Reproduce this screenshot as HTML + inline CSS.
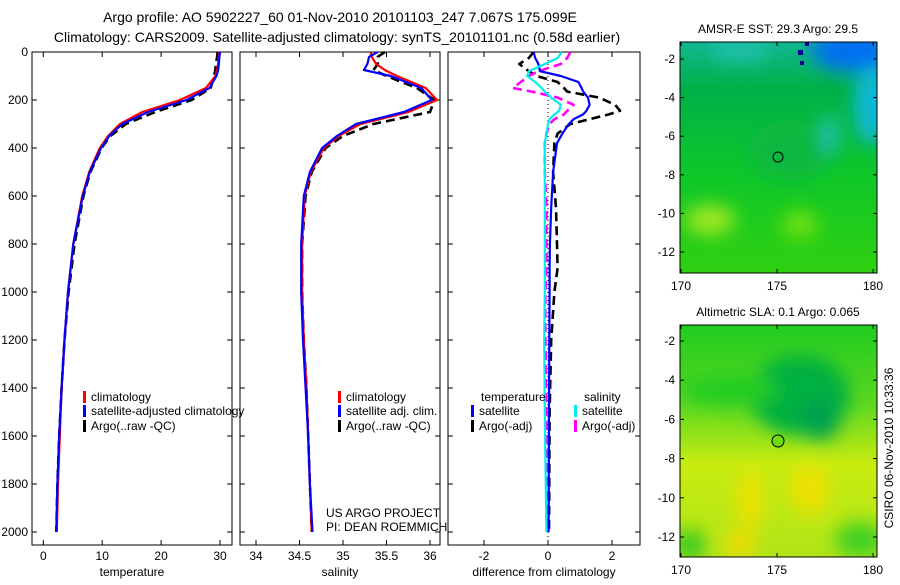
<!DOCTYPE html>
<html><head><meta charset="utf-8">
<style>
body{margin:0;background:#fff;width:900px;height:580px;overflow:hidden;font-family:"Liberation Sans",sans-serif;}
svg text{font-family:"Liberation Sans",sans-serif;fill:#000;}
</style></head>
<body>
<svg id="chart" width="900" height="580" viewBox="0 0 900 580" xmlns="http://www.w3.org/2000/svg">
<defs>
<filter id="bl" x="-50%" y="-50%" width="200%" height="200%"><feGaussianBlur stdDeviation="9"/></filter>
<clipPath id="c1"><rect x="680" y="42" width="197" height="231"/></clipPath>
<clipPath id="c2"><rect x="680" y="325" width="197" height="232"/></clipPath>
<linearGradient id="g1" x1="0" y1="0" x2="0" y2="1">
<stop offset="0" stop-color="#10b890"/><stop offset="0.2" stop-color="#00b048"/><stop offset="0.6" stop-color="#10c828"/><stop offset="1" stop-color="#30d010"/></linearGradient>
<linearGradient id="g2" x1="0" y1="0" x2="0" y2="1">
<stop offset="0" stop-color="#20cc20"/><stop offset="0.35" stop-color="#60d820"/><stop offset="0.6" stop-color="#c8ec10"/><stop offset="1" stop-color="#b0e418"/></linearGradient>
</defs>
<text x="340" y="22" text-anchor="middle" font-size="14">Argo profile: AO 5902227_60 01-Nov-2010 20101103_247 7.067S 175.099E</text>
<text x="337" y="42" text-anchor="middle" font-size="14">Climatology: CARS2009. Satellite-adjusted climatology: synTS_20101101.nc (0.58d earlier)</text>
<g id="p1"></g>
<g id="p2"></g>
<g id="p3"></g>

<g>
<text x="778" y="33" text-anchor="middle" font-size="12">AMSR-E SST: 29.3 Argo: 29.5</text>
<g clip-path="url(#c1)">
<rect x="680" y="42" width="197" height="231" fill="url(#g1)"/>
<g filter="url(#bl)">
<ellipse cx="855" cy="50" rx="45" ry="22" fill="#0070f0"/>
<ellipse cx="872" cy="105" rx="18" ry="40" fill="#10b8d8"/>
<ellipse cx="740" cy="50" rx="30" ry="10" fill="#20c0b0"/>
<ellipse cx="710" cy="220" rx="25" ry="15" fill="#a0e820"/>
<ellipse cx="800" cy="225" rx="18" ry="14" fill="#70e010"/>
<ellipse cx="790" cy="150" rx="40" ry="30" fill="#10b840"/>
<ellipse cx="830" cy="135" rx="8" ry="20" fill="#20c0c0"/>
</g>
<rect x="798" y="50" width="5" height="5" fill="#000090"/>
<rect x="800" y="61" width="4" height="4" fill="#000090"/>
<rect x="805" y="42" width="4" height="4" fill="#000090"/>
</g>
<rect x="680" y="42" width="197" height="231" fill="none" stroke="#000"/>
<circle cx="778" cy="157" r="5" fill="none" stroke="#000"/>
</g>

<g>
<text x="778" y="316" text-anchor="middle" font-size="12">Altimetric SLA: 0.1 Argo: 0.065</text>
<g clip-path="url(#c2)">
<rect x="680" y="325" width="197" height="232" fill="url(#g2)"/>
<g filter="url(#bl)">
<ellipse cx="800" cy="395" rx="50" ry="40" fill="#00b040"/>
<ellipse cx="820" cy="420" rx="20" ry="20" fill="#00a050"/>
<ellipse cx="730" cy="390" rx="50" ry="15" fill="#20cc20"/>
<ellipse cx="750" cy="500" rx="12" ry="30" fill="#f0e000"/>
<ellipse cx="810" cy="490" rx="18" ry="25" fill="#f0e000"/>
<ellipse cx="740" cy="545" rx="15" ry="15" fill="#f0dc00"/>
<ellipse cx="690" cy="545" rx="15" ry="15" fill="#30c820"/>
<ellipse cx="860" cy="540" rx="25" ry="18" fill="#40d020"/>
</g>
</g>
<rect x="680" y="325" width="197" height="232" fill="none" stroke="#000"/>
<circle cx="778" cy="441" r="6" fill="#70dc10" stroke="#000"/>
</g>
<g id="maxes"></g>
<text transform="translate(893,448) rotate(-90)" text-anchor="middle" font-size="12">CSIRO 06-Nov-2010 10:33:36</text>
</svg>
<script>
// ---- data ----
const depths = [0,20,50,75,100,150,200,250,300,350,400,500,600,800,1000,1200,1400,1600,1800,2000];
const tempClim = [29.9,29.8,29.7,29.5,29.2,27.6,23.2,16.8,13.0,11.0,9.6,7.8,6.6,5.1,4.2,3.6,3.1,2.8,2.5,2.3];
const tempSat  = [30.0,29.9,29.8,29.7,29.4,28.2,24.3,17.8,13.4,11.2,9.8,7.9,6.7,5.1,4.2,3.6,3.1,2.7,2.4,2.2];
const tempArgo = [29.6,29.5,29.3,29.2,29.0,28.4,25.2,19.0,14.0,11.4,9.9,8.0,6.8,5.3,4.3,3.6,3.1,2.7,2.4,2.2];
const salClim  = [35.32,35.33,35.38,35.48,35.62,35.95,36.08,35.75,35.20,34.95,34.78,34.63,34.56,34.53,34.53,34.55,34.58,34.60,34.62,34.64];
const salSat   = [35.40,35.30,35.28,35.24,35.55,35.90,36.02,35.70,35.15,34.93,34.76,34.62,34.55,34.52,34.52,34.54,34.57,34.60,34.62,34.65];
const salArgo  = [35.48,35.40,35.40,35.35,35.50,35.85,36.05,36.00,35.35,35.00,34.80,34.64,34.57,34.53,34.53,34.55,34.58,34.60,34.62,34.64];
const diffDepths = [0,25,50,80,100,125,150,165,190,220,245,260,280,300,340,380,500,650,800,900,1000,1200,1500,2000];
const dTempSat  = [-0.45,-0.4,-0.3,-0.25,0.4,0.95,1.05,1.1,1.25,1.3,1.2,1.1,0.8,0.65,0.45,0.28,0.16,0.1,0.06,0.05,0.05,0.04,0.03,0.02];
const dTempArgo = [-0.45,-0.6,-0.9,-0.6,-0.35,0.3,0.5,0.6,1.6,2.1,2.25,1.9,1.3,0.7,0.3,0.2,0.16,0.25,0.28,0.3,0.2,0.1,0.05,0.03];
const dSalSat   = [0.43,0.3,-0.1,-0.6,-0.65,-0.4,-0.2,-0.1,0.1,0.4,0.35,0.2,0.05,0,-0.05,-0.1,-0.1,-0.1,-0.1,-0.1,-0.1,-0.12,-0.1,-0.05];
const dSalArgo  = [0.7,0.6,0.4,-0.3,-0.6,-0.85,-1.1,-0.5,0.3,0.8,0.6,0.5,0.2,0.05,-0.05,-0.1,-0.1,-0.05,-0.05,-0.05,-0.08,-0.08,-0.05,-0.03];
const depthTicks = [0,200,400,600,800,1000,1200,1400,1600,1800,2000];
const tempTicks = [0,10,20,30];
const salTicks = [34,34.5,35,35.5,36];
const salTickLabels = ["34","34.5","35","35.5","36"];
const diffTicks = [-2,0,2];
const lonTicks = [170,175,180];
const latTicks = [-2,-4,-6,-8,-10,-12];

const NS='http://www.w3.org/2000/svg';
const svg=document.getElementById('chart');
function mk(tag,attrs,parent){const e=document.createElementNS(NS,tag);for(const k in attrs)e.setAttribute(k,attrs[k]);(parent||svg).appendChild(e);return e;}
const Y0=52, Y1=545;
function yD(d){return 52+d*0.24;}
function xT(v){return 43.3+v*5.89;}
function xS(v){return 256+(v-34)*87;}
function xDf(v){return 548+v*32;}

function panel(g,x0,x1,xs,ticks,labels,title,name){
  const f=mk('rect',{x:x0,y:Y0,width:x1-x0,height:Y1-Y0,fill:'none',stroke:'#000','stroke-width':1},g);
  
  
  ticks.forEach((t,i)=>{const x=xs(t);
    mk('line',{x1:x,x2:x,y1:Y1,y2:Y1-5,stroke:'#000'},g);
    mk('line',{x1:x,x2:x,y1:Y0,y2:Y0+5,stroke:'#000'},g);
    const tx=mk('text',{x:x,y:Y1+15,'text-anchor':'middle','font-size':12},g);tx.textContent=labels[i];
    
    
  });
  depthTicks.forEach(d=>{const y=yD(d);
    mk('line',{x1:x0,x2:x0+5,y1:y,y2:y,stroke:'#000'},g);
    mk('line',{x1:x1,x2:x1-5,y1:y,y2:y,stroke:'#000'},g);
  });
  const tt=mk('text',{x:(x0+x1)/2,y:576,'text-anchor':'middle','font-size':12},g);tt.textContent=title;
  
  
}
function series(g,ds,vs,xs,color,dash,name){
  const pts=ds.map((d,i)=>xs(vs[i]).toFixed(1)+','+yD(d).toFixed(1)).join(' ');
  const p=mk('polyline',{points:pts,fill:'none',stroke:color,'stroke-width':dash?2.6:2.2,'stroke-dasharray':dash?'9,5':'none','stroke-linejoin':'round'},g);
  
  
}
function legend(g,x,y,color,label,name){
  mk('rect',{x:x,y:y-6,width:3,height:12,fill:color},g);
  const t=mk('text',{x:x+8,y:y+4,'font-size':12},g);t.textContent=label;
  
  
}
const g1=document.getElementById('p1'),g2=document.getElementById('p2'),g3=document.getElementById('p3');
depthTicks.forEach(d=>{const t=mk('text',{x:28,y:yD(d)+4,'text-anchor':'end','font-size':12},g1);t.textContent=d;
  
  });
panel(g1,32,232,xT,tempTicks,tempTicks.map(String),'temperature','temperature');
panel(g2,240,440,xS,salTicks,salTickLabels,'salinity','salinity');
panel(g3,448,640,xDf,diffTicks,diffTicks.map(String),'difference from climatology','difference');
mk('line',{x1:xDf(0),x2:xDf(0),y1:Y0,y2:Y1,stroke:'#000','stroke-dasharray':'1,3'},g3);
series(g1,depths,tempArgo,xT,'#000',true,'temp-argo-line');
series(g1,depths,tempClim,xT,'#f00',false,'temp-climatology-line');
series(g1,depths,tempSat,xT,'#00f',false,'temp-satellite-line');
series(g2,depths,salArgo,xS,'#000',true,'sal-argo-line');
series(g2,depths,salClim,xS,'#f00',false,'sal-climatology-line');
series(g2,depths,salSat,xS,'#00f',false,'sal-satellite-line');
series(g3,diffDepths,dTempArgo,xDf,'#000',true,'diff-temp-argo-line');
series(g3,diffDepths,dSalArgo,xDf,'#f0f',true,'diff-sal-argo-line');
series(g3,diffDepths,dTempSat,xDf,'#00f',false,'diff-temp-satellite-line');
series(g3,diffDepths,dSalSat,xDf,'#0ee',false,'diff-sal-satellite-line');
legend(g1,83,397,'#f00','climatology','legend-climatology');
legend(g1,83,411,'#00f','satellite-adjusted climatology','legend-satellite');
legend(g1,83,426,'#000','Argo(..raw -QC)','legend-argo');
legend(g2,338,397,'#f00','climatology','legend2-climatology');
legend(g2,338,411,'#00f','satellite adj. clim.','legend2-satellite');
legend(g2,338,426,'#000','Argo(..raw -QC)','legend2-argo');
const lt=mk('text',{x:481,y:401,'font-size':12},g3);lt.textContent='temperature';


const ls=mk('text',{x:584,y:401,'font-size':12},g3);ls.textContent='salinity';


legend(g3,471,411,'#00f','satellite','legend3-temp-satellite');
legend(g3,471,426,'#000','Argo(-adj)','legend3-temp-argo');
legend(g3,574,411,'#0ee','satellite','legend3-sal-satellite');
legend(g3,574,426,'#f0f','Argo(-adj)','legend3-sal-argo');
const pr1=mk('text',{x:326,y:517,'font-size':12},g2);pr1.textContent='US ARGO PROJECT';


const pr2=mk('text',{x:326,y:531,'font-size':12},g2);pr2.textContent='PI: DEAN ROEMMICH';


const ga=document.getElementById('maxes');
function xLon(v){return 681+(v-170)*19.2;}
[[42,273,59,19.3],[325,557,341,19.6]].forEach(([top,bot,y2,s],mi)=>{
  latTicks.forEach(l=>{const y=y2+(-2-l)*s;
    mk('line',{x1:680,x2:684,y1:y,y2:y,stroke:'#000'},ga);mk('line',{x1:877,x2:873,y1:y,y2:y,stroke:'#000'},ga);
    const t=mk('text',{x:675,y:y+4,'text-anchor':'end','font-size':12},ga);t.textContent=l;
    
    });
  lonTicks.forEach(l=>{const x=xLon(l);
    mk('line',{x1:x,x2:x,y1:bot,y2:bot-4,stroke:'#000'},ga);mk('line',{x1:x,x2:x,y1:top,y2:top+4,stroke:'#000'},ga);
    const t=mk('text',{x:x,y:bot+17,'text-anchor':'middle','font-size':12},ga);t.textContent=l;
    
    });
});
</script>
</body></html>
